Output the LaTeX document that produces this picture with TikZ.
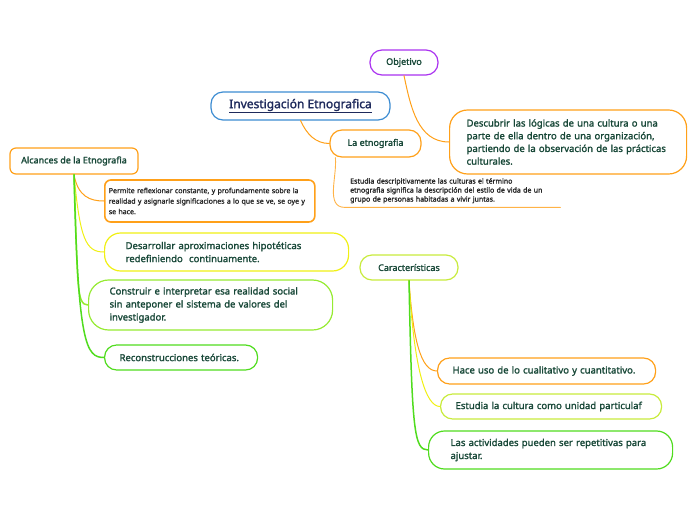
\documentclass[tikz,border=0pt]{standalone}
\usepackage{fontspec}
\newfontfamily\mapfont{Noto Sans}[AutoFakeBold=1.6]
\usepackage{xcolor}
\definecolor{TextGreen}{RGB}{24,72,56}
\definecolor{TitleNavy}{RGB}{30,42,92}
\definecolor{Amber}{RGB}{255,160,25}
\definecolor{Violet}{RGB}{170,50,240}
\definecolor{SkyBlue}{RGB}{60,140,210}
\definecolor{Lemon}{RGB}{240,240,20}
\definecolor{LimeGreen}{RGB}{150,235,50}
\definecolor{Grass}{RGB}{80,220,30}
\definecolor{YellowGreen}{RGB}{200,235,60}
\tikzset{
  topic/.style={rectangle, rounded corners=12pt, draw, line width=1.2pt,
    fill=white, text=TextGreen, align=center, inner sep=0pt,
    font=\mapfont\bfseries\fontsize{9}{12}\selectfont},
  leftbox/.style={topic, align=left, anchor=west,
    font=\mapfont\bfseries\fontsize{9.5}{13}\selectfont},
  smalltext/.style={align=left, inner sep=0pt, text=black!85,
    font=\mapfont\bfseries\fontsize{7}{9}\selectfont},
  link/.style={line width=1pt, line cap=round}
}
\begin{document}
\begin{tikzpicture}[x=1pt, y=-1pt]
  \useasboundingbox (0,0) rectangle (696,520);

  % Centre and top
  \node[topic, draw=SkyBlue, text=TitleNavy, minimum width=179pt, minimum height=28pt,
    font=\mapfont\bfseries\fontsize{12}{14}\selectfont] (inv) at (300.5,106) {\underline{Investigación Etnografica}};
  \node[topic, draw=Violet, minimum width=68pt, minimum height=25pt] (obj) at (404,62.5) {Objetivo};
  \node[topic, draw=Amber, minimum width=91pt, minimum height=27pt] (etno) at (375.5,143.5) {La etnografia};
  \node[leftbox, draw=Amber, text width=203pt, inner xsep=17pt, minimum height=64pt,
    rounded corners=18pt, font=\mapfont\bfseries\fontsize{9.5}{12.7}\selectfont] (desc) at (449,142)
    {Descubrir las lógicas de una cultura o una\\parte de ella dentro de una organización,\\partiendo de la observación de las prácticas\\culturales.};
  \node[smalltext, text width=205pt, inner xsep=5pt, inner ysep=3pt, minimum height=33pt,
    anchor=north west] (note) at (345,174)
    {Estudia descripitivamente las culturas el término\\etnografia significa la descripción del estilo de vida de un\\grupo de personas habitadas a vivir juntas.};

  \draw[link, Amber] (inv.south) to[out=-65, in=180] (etno.west);
  \draw[link, Amber] (obj.south) to[out=-78, in=180] (desc.west);
  \draw[link, Amber!80, line width=0.9pt] ([xshift=6pt]etno.south west)
    to[out=-85, in=180] (note.south west) -- (note.south east);

  % Alcances
  \node[topic, draw=Amber, rounded corners=6pt, minimum width=128pt, minimum height=26pt] (alc) at (74,161) {Alcances de la Etnografia};
  \node[leftbox, draw=Amber, rounded corners=6pt, line width=1.6pt, text width=202pt, inner xsep=4pt, minimum height=42pt,
    text=black!85, font=\mapfont\bfseries\fontsize{7}{10.5}\selectfont] (perm) at (104,201)
    {Permite reflexionar constante, y profundamente sobre la\\realidad y asignarle significaciones a lo que se ve, se oye y\\se hace.};
  \node[leftbox, draw=Lemon, rounded corners=16pt, text width=202pt, inner xsep=21pt, minimum height=38pt] (desa) at (104,252)
    {Desarrollar aproximaciones hipotéticas\\redefiniendo\ \ continuamente.};
  \node[leftbox, draw=LimeGreen, rounded corners=20pt, text width=202pt, inner xsep=21pt, minimum height=50pt] (cons) at (88,305)
    {Construir e interpretar esa realidad social\\sin anteponer el sistema de valores del\\investigador.};
  \node[leftbox, draw=Grass, text width=123pt, inner xsep=15pt, minimum height=25pt] (reco) at (104,357.5)
    {Reconstrucciones teóricas.};

  \draw[link, Amber] (alc.south) .. controls +(4,22) and +(-14,0) .. (perm.west);
  \draw[link, Lemon] (alc.south) .. controls +(6,65) and +(-18,0) .. (desa.west);
  \draw[link, LimeGreen, line width=1.5pt] (alc.south) .. controls +(4,110) and +(-12,0) .. (cons.west);
  \draw[link, Grass, line width=1.5pt] (alc.south) .. controls +(4,170) and +(-18,0) .. (reco.west);

  % Caracteristicas
  \node[topic, draw=YellowGreen, minimum width=98pt, minimum height=25pt] (car) at (409,267.5) {Características};
  \node[leftbox, draw=Amber, text width=188pt, inner xsep=15pt, minimum height=26pt] (hace) at (437,371)
    {Hace uso de lo cualitativo y cuantitativo.};
  \node[leftbox, draw=YellowGreen, text width=191pt, inner xsep=15pt, minimum height=25pt] (estc) at (440,406.5)
    {Estudia la cultura como unidad particulaf};
  \node[leftbox, draw=Grass, rounded corners=16pt, text width=200pt, inner xsep=22pt, minimum height=38pt] (las) at (428,450)
    {Las actividades pueden ser repetitivas para\\ajustar.};

  \draw[link, Amber] (car.south) .. controls +(4,60) and +(-16,0) .. (hace.west);
  \draw[link, Lemon] (car.south) .. controls +(5,90) and +(-14,0) .. (estc.west);
  \draw[link, Grass, line width=1.5pt] (car.south) .. controls +(3,150) and +(-14,0) .. (las.west);

\end{tikzpicture}
\end{document}
